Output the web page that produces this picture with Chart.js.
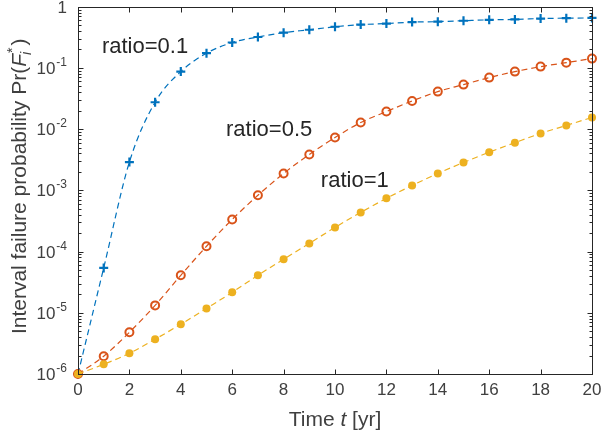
<!DOCTYPE html>
<html>
<head>
<meta charset="utf-8">
<script src="https://cdn.jsdelivr.net/npm/chart.js@4/dist/chart.umd.min.js"></script>
<style>
  html, body { margin: 0; padding: 0; background: #fff; }
  #wrap { width: 601px; height: 435px; }
</style>
</head>
<body>
<div id="wrap"><canvas id="chart"></canvas></div>
<script>
'use strict';

// time axis [yr]
const years = [0, 1, 2, 3, 4, 5, 6, 7, 8, 9, 10, 11, 12, 13, 14, 15, 16, 17, 18, 19, 20];

// interval failure probability
const ratio01 = [1e-6, 5.4e-5, 2.9e-3, 0.0275, 0.087, 0.174, 0.26, 0.32, 0.377, 0.42, 0.47,
  0.51, 0.53, 0.56, 0.57, 0.59, 0.61, 0.62, 0.64, 0.65, 0.655];
const ratio05 = [1e-6, 1.95e-6, 4.8e-6, 1.32e-5, 4.1e-5, 1.22e-4, 3.35e-4, 8.3e-4, 1.89e-3, 3.85e-3, 7.3e-3,
  0.0128, 0.0194, 0.0288, 0.041, 0.0534, 0.0695, 0.087, 0.105, 0.122, 0.142];
const ratio1 = [1e-6, 1.44e-6, 2.18e-6, 3.7e-6, 6.5e-6, 1.18e-5, 2.16e-5, 4.1e-5, 7.5e-5, 1.36e-4, 2.48e-4,
  4.36e-4, 7.4e-4, 1.2e-3, 1.89e-3, 2.85e-3, 4.2e-3, 6.0e-3, 8.5e-3, 0.0115, 0.0155];

const xTicks = [0, 2, 4, 6, 8, 10, 12, 14, 16, 18, 20];
const yDecades = [-6, -5, -4, -3, -2, -1, 0];

// text labels placed next to the curves (anchor in data units)
const curveLabels = [
  { text: 'ratio=0.1', t: 0.93, p: 0.223 },
  { text: 'ratio=0.5', t: 5.76, p: 0.00985 },
  { text: 'ratio=1', t: 9.45, p: 0.0014 }
];

const FONT = '"Liberation Sans", Arial, Helvetica, sans-serif';
const AXIS_COLOR = '#262626';
const TEXT_COLOR = '#404040';

const toPoints = (vals) => vals.map((v, i) => ({ x: years[i], y: v }));

const lineStyle = {
  showLine: true,
  borderWidth: 1.2,
  borderDash: [6, 4],
  cubicInterpolationMode: 'monotone',
  clip: false
};

const matlabAxes = {
  id: 'matlabAxes',
  afterDraw(chart) {
    const ctx = chart.ctx;
    const area = chart.chartArea;
    const xs = chart.scales.x;
    const ys = chart.scales.y;
    const L = Math.round(area.left) + 0.5;
    const R = Math.round(area.right) + 0.5;
    const T = Math.round(area.top) + 0.5;
    const B = Math.round(area.bottom) + 0.5;

    ctx.save();
    ctx.strokeStyle = AXIS_COLOR;
    ctx.lineWidth = 1;
    ctx.strokeRect(L, T, R - L, B - T);

    // x ticks, inward, bottom and top
    ctx.beginPath();
    for (const t of xTicks) {
      const px = Math.round(xs.getPixelForValue(t)) + 0.5;
      ctx.moveTo(px, B); ctx.lineTo(px, B - 5);
      ctx.moveTo(px, T); ctx.lineTo(px, T + 5);
    }
    // y ticks: decades and minor ticks
    for (const d of yDecades) {
      for (let k = 1; k <= 9; k++) {
        if (d === 0 && k > 1) break;
        const py = Math.round(ys.getPixelForValue(k * Math.pow(10, d))) + 0.5;
        const len = k === 1 ? 5 : 3;
        ctx.moveTo(L, py); ctx.lineTo(L + len, py);
        ctx.moveTo(R, py); ctx.lineTo(R - len, py);
      }
    }
    ctx.stroke();

    // y tick labels with superscript exponent
    ctx.fillStyle = TEXT_COLOR;
    ctx.textBaseline = 'alphabetic';
    ctx.textAlign = 'left';
    const rightEdge = area.left - 11;
    for (const d of yDecades) {
      const py = ys.getPixelForValue(Math.pow(10, d));
      if (d === 0) {
        ctx.font = '17px ' + FONT;
        const w = ctx.measureText('1').width;
        ctx.fillText('1', rightEdge - w, py + 6);
        continue;
      }
      const exp = String(d);
      ctx.font = '12px ' + FONT;
      const we = ctx.measureText(exp).width;
      ctx.font = '17px ' + FONT;
      const wb = ctx.measureText('10').width;
      const x0 = rightEdge - we - wb - 1;
      ctx.fillText('10', x0, py + 6);
      ctx.font = '12px ' + FONT;
      ctx.fillText(exp, x0 + wb + 1, py - 2);
    }

    // x title: Time t [yr]
    const xParts = [
      { s: 'Time ', f: '21px ' + FONT },
      { s: 't', f: 'italic 21px ' + FONT },
      { s: ' [yr]', f: '21px ' + FONT }
    ];
    let total = 0;
    for (const p of xParts) { ctx.font = p.f; p.w = ctx.measureText(p.s).width; total += p.w; }
    let cx = (area.left + area.right) / 2 - total / 2;
    for (const p of xParts) { ctx.font = p.f; ctx.fillText(p.s, cx, 426); cx += p.w; }

    // y title: Interval failure probability Pr(F_i^*)
    ctx.save();
    ctx.translate(26, (area.top + area.bottom) / 2 - 4);
    ctx.rotate(-Math.PI / 2);
    const main = 'Interval failure probability Pr(';
    ctx.font = '21px ' + FONT;
    const wMain = ctx.measureText(main).width;
    ctx.font = 'italic 21px ' + FONT;
    const wF = ctx.measureText('F').width;
    ctx.font = '14px ' + FONT;
    const wStar = ctx.measureText('*').width;
    ctx.font = 'italic 14px ' + FONT;
    const wi = ctx.measureText('i').width;
    const wScript = Math.max(wStar + 2, wi) + 1;
    ctx.font = '21px ' + FONT;
    const wClose = ctx.measureText(')').width;
    const all = wMain + wF + wScript + wClose;
    let yx = -all / 2;
    ctx.font = '21px ' + FONT;
    ctx.fillText(main, yx, 0); yx += wMain;
    ctx.font = 'italic 21px ' + FONT;
    ctx.fillText('F', yx, 0); yx += wF;
    ctx.font = '14px ' + FONT;
    ctx.fillText('*', yx + 1, -9);
    ctx.font = 'italic 14px ' + FONT;
    ctx.fillText('i', yx - 1, 5);
    yx += wScript;
    ctx.font = '21px ' + FONT;
    ctx.fillText(')', yx, 0);
    ctx.restore();

    // curve labels
    ctx.fillStyle = '#262626';
    ctx.font = '22px ' + FONT;
    ctx.textBaseline = 'middle';
    for (const c of curveLabels) {
      ctx.fillText(c.text, xs.getPixelForValue(c.t), ys.getPixelForValue(c.p));
    }
    ctx.restore();
  }
};

new Chart(document.getElementById('chart'), {
  type: 'scatter',
  data: {
    datasets: [
      {
        ...lineStyle,
        label: 'ratio=0.1',
        data: toPoints(ratio01),
        borderColor: '#0072BD',
        pointStyle: 'cross',
        pointRadius: 4.5,
        pointBorderWidth: 2.2,
        pointBorderColor: '#0072BD',
        order: 2
      },
      {
        ...lineStyle,
        label: 'ratio=0.5',
        data: toPoints(ratio05),
        borderColor: '#D95319',
        pointStyle: 'circle',
        pointRadius: 4,
        pointBorderWidth: 2,
        pointBorderColor: '#D95319',
        pointBackgroundColor: 'rgba(0,0,0,0)',
        order: 1
      },
      {
        ...lineStyle,
        label: 'ratio=1',
        data: toPoints(ratio1),
        borderColor: '#EDB120',
        pointStyle: 'circle',
        pointRadius: 4,
        pointBorderWidth: 0,
        pointBackgroundColor: '#EDB120',
        order: 0
      }
    ]
  },
  options: {
    responsive: true,
    maintainAspectRatio: false,
    animation: false,
    devicePixelRatio: 1,
    layout: { padding: { top: 6, right: 9, left: 0, bottom: 0 } },
    plugins: {
      legend: { display: false },
      tooltip: { enabled: false }
    },
    scales: {
      x: {
        type: 'linear',
        min: 0,
        max: 20,
        afterBuildTicks: (s) => { s.ticks = xTicks.map((v) => ({ value: v })); },
        afterFit: (s) => { s.height = 61; s.paddingLeft = 0; s.paddingRight = 0; },
        grid: { display: false, drawTicks: false },
        border: { display: false },
        ticks: {
          color: TEXT_COLOR,
          font: { family: FONT, size: 17 },
          padding: 6,
          maxRotation: 0
        }
      },
      y: {
        type: 'logarithmic',
        min: 1e-6,
        max: 1,
        afterFit: (s) => { s.width = 78; s.paddingTop = 0; s.paddingBottom = 0; },
        grid: { display: false, drawTicks: false },
        border: { display: false },
        ticks: { display: false }
      }
    }
  },
  plugins: [matlabAxes]
});
</script>
</body>
</html>
